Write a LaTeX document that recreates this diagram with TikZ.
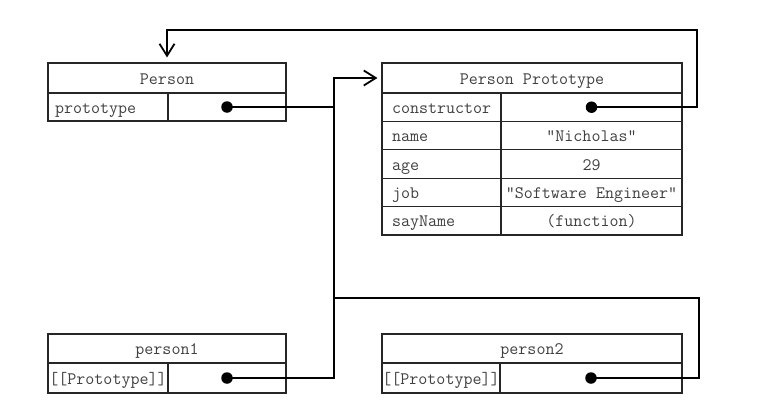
\documentclass[tikz,border=0pt]{standalone}
\usepackage{fontspec}
\usetikzlibrary{arrows.meta}
\begin{document}
\begin{tikzpicture}[x=1pt,y=-1pt,
  cell/.style={draw=black!85,line width=1.1pt,inner sep=0pt,
    text height=13.5pt,text depth=1.5pt,
    font=\fontsize{17.5}{17.5}\selectfont\ttfamily,text=black!75},
  lab/.style={cell,text width=#1-20pt,align=left,minimum width=#1},
  val/.style={cell,minimum width=#1},
  link/.style={line width=2pt,line cap=butt,line join=miter},
  tip/.style={-{Straight Barb[length=12pt,width=15pt,line width=1.8pt]}},
  dot/.style={circle,fill=black,inner sep=0pt,minimum size=11.5pt}]
\useasboundingbox (0,0) rectangle (774,407);

% Person constructor
\node[val=238pt,minimum height=30pt] (pHead) at (167,78) {Person};
\node[lab=120pt,minimum height=28pt,text width=106pt] (pProtoK) at (108,107) {prototype};
\node[val=118pt,minimum height=28pt] (pProtoV) at (227,107) {};

% Person Prototype
\node[val=300pt,minimum height=30pt] (ppHead) at (532,78) {Person Prototype};
\node[lab=119pt,minimum height=28.4pt] (ppK1) at (441.5,107.2) {constructor};
\node[val=181pt,minimum height=28.4pt] (ppV1) at (591.5,107.2) {};
\node[lab=119pt,minimum height=28.4pt] (ppK2) at (441.5,135.6) {name};
\node[val=181pt,minimum height=28.4pt] (ppV2) at (591.5,135.6) {"Nicholas"};
\node[lab=119pt,minimum height=28.4pt] (ppK3) at (441.5,164.0) {age};
\node[val=181pt,minimum height=28.4pt] (ppV3) at (591.5,164.0) {29};
\node[lab=119pt,minimum height=28.4pt] (ppK4) at (441.5,192.4) {job};
\node[val=181pt,minimum height=28.4pt] (ppV4) at (591.5,192.4) {"Software Engineer"};
\node[lab=119pt,minimum height=28.4pt] (ppK5) at (441.5,220.8) {sayName};
\node[val=181pt,minimum height=28.4pt] (ppV5) at (591.5,220.8) {(function)};

% instances
\node[val=238pt,minimum height=29pt] (p1Head) at (167,348.5) {person1};
\node[val=120pt,minimum height=30pt] (p1K) at (108,378) {[[Prototype]]};
\node[val=118pt,minimum height=30pt] (p1V) at (227,378) {};
\node[val=300pt,minimum height=29pt] (p2Head) at (532,348.5) {person2};
\node[val=118pt,minimum height=30pt] (p2K) at (441,378) {[[Prototype]]};
\node[val=182pt,minimum height=30pt] (p2V) at (591,378) {};

% pointer dots
\node[dot] (pDot) at (pProtoV.center) {};
\node[dot] (cDot) at (ppV1.center) {};
\node[dot] (p1Dot) at (p1V.center) {};
\node[dot] (p2Dot) at (p2V.center) {};

% routing points
\coordinate (bus) at (334,78);
\coordinate (join) at (334,298);
\coordinate (rightBend) at (699,298);
\coordinate (topRight) at (697,30);

% pointers
\draw[link,tip,shorten >=4pt] (pDot.center) -| (bus) -- (ppHead.west);
\draw[link] (p1Dot.center) -| (bus);
\draw[link] (p2Dot.center) -| (rightBend) -- (join);
\draw[link,tip,shorten >=5pt] (cDot.center) -| (topRight) -| (pHead.north);
\end{tikzpicture}
\end{document}
